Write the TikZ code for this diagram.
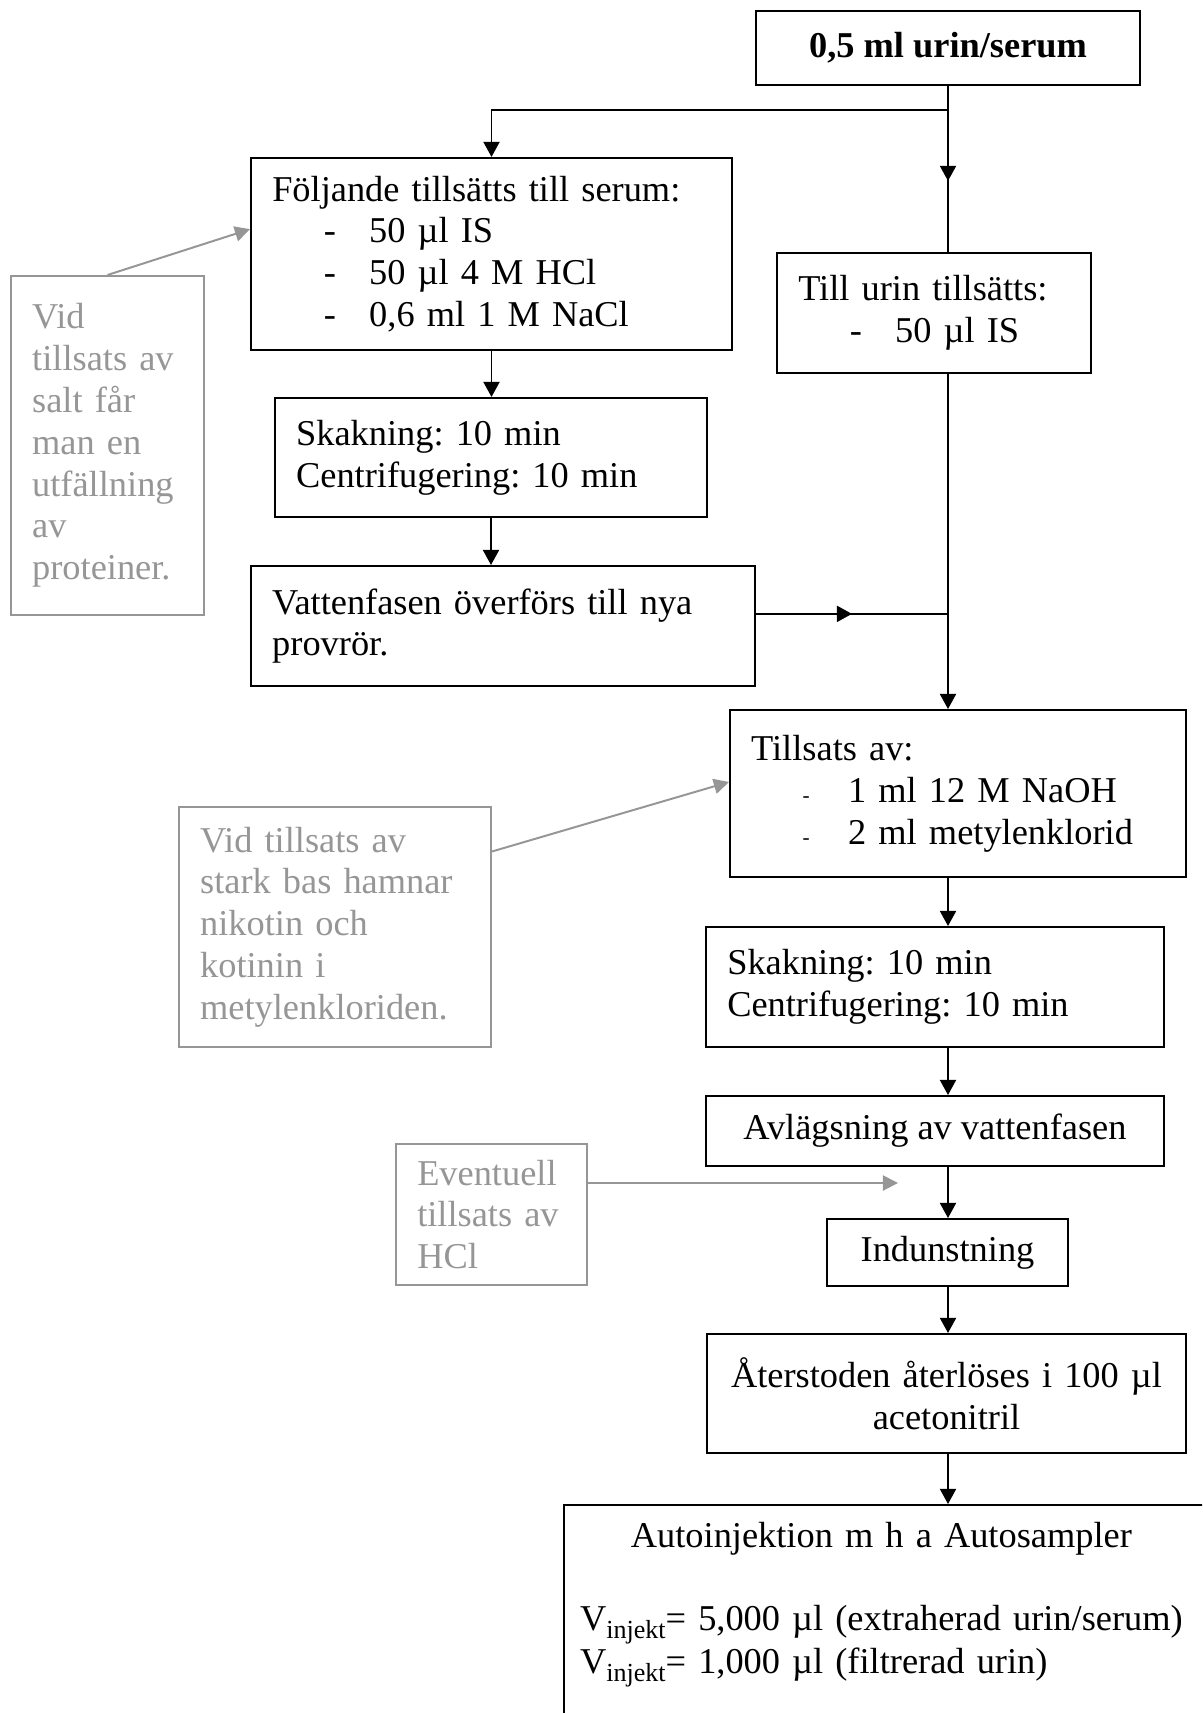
\documentclass[tikz,border=0pt]{standalone}
\usepackage{fontspec}
\setmainfont{Liberation Serif}
\usepackage{xcolor}
\usepackage{tikz}
\usetikzlibrary{arrows.meta,calc,decorations.markings}

\definecolor{notegray}{RGB}{150,150,150}
\newcommand{\dashitem}[2][-]{\makebox[32pt][l]{\hspace*{17pt}#1}#2}
\newcommand{\vinj}{V\raisebox{-2.6pt}{\fontsize{8.6pt}{9pt}\selectfont injekt}}
\frenchspacing

\begin{document}
\begin{tikzpicture}[
    x=0.33pt, y=-0.33pt,
    every node/.style={font=\fontsize{12pt}{13.8pt}\selectfont},
    box/.style={draw,line width=0.65pt,align=left,inner xsep=7pt,inner ysep=2pt},
    cbox/.style={box,align=center},
    note/.style={draw=notegray,line width=0.65pt,text=notegray,align=left,inner xsep=7pt,inner ysep=2pt},
    arr/.style={-{Triangle[length=5pt,width=5.3pt]},line width=0.65pt},
    midarr/.style={line width=0.65pt,decoration={markings,mark=at position 0.5 with {\arrow{Triangle[length=5pt,width=5.3pt]}}},postaction={decorate}},
    grayarr/.style={-{Triangle[length=5pt,width=5pt]},draw=notegray,line width=0.65pt},
]
\clip (0,0) rectangle (1202,1713);

% serum branch (left) and urine branch (right)
\node[box,font=\fontsize{12pt}{13.8pt}\selectfont\bfseries,minimum width=126.7pt,minimum height=24.4pt] (top) at (948,48) {0,5 ml urin/serum};
\node[box,text width=144.7pt,minimum height=63.4pt] (serum) at (491.5,254) {Följande tillsätts till serum:\\\dashitem{50 µl IS}\\\dashitem{50 µl 4 M HCl}\\\dashitem{0,6 ml 1 M NaCl}};
\node[box,text width=89.6pt,minimum height=39.6pt] (urin) at (934,313) {Till urin tillsätts:\\\dashitem{50 µl IS}};
\node[note,text width=49.7pt,minimum height=111.9pt] (salt) at (107.5,445.5) {Vid\\tillsats av\\salt får\\man en\\utfällning\\av\\proteiner.};
\node[box,text width=128.6pt,minimum height=39.3pt] (shake1) at (491,457.5) {Skakning: 10 min\\Centrifugering: 10 min};
\node[box,text width=152.3pt,minimum height=39.6pt] (water) at (503,626) {Vattenfasen överförs till nya\\provrör.};

% common extraction steps
\node[box,text width=136.5pt,minimum height=55.1pt] (base) at (958,793.5) {Tillsats av:\\\dashitem[\scriptsize -]{1 ml 12 M NaOH}\\\dashitem[\scriptsize -]{2 ml metylenklorid}};
\node[note,text width=89pt,minimum height=79.2pt] (bas) at (335,927) {Vid tillsats av\\stark bas hamnar\\nikotin och\\kotinin i\\metylenkloriden.};
\node[box,text width=137.1pt,minimum height=39.6pt] (shake2) at (935,987) {Skakning: 10 min\\Centrifugering: 10 min};
\node[cbox,minimum width=151.1pt,minimum height=23.1pt] (remove) at (935,1131) {Avlägsning av vattenfasen};
\node[note,text width=49pt,minimum height=46.5pt] (hcl) at (491.5,1214.5) {Eventuell\\tillsats av\\HCl};
\node[cbox,minimum width=79.5pt,minimum height=22.1pt] (evap) at (947.5,1252.5) {Indunstning};
\node[cbox,text width=144.1pt,minimum height=39.3pt] (redis) at (946.5,1393.5) {Återstoden återlöses i 100 µl\\acetonitril};
\node[box,anchor=north west,text width=210pt,inner xsep=5.3pt,inner ysep=4.3pt] (inject) at (563,1504) {\begin{tabular}{@{}l@{}}\multicolumn{1}{@{}c@{}}{Autoinjektion m h a Autosampler}\\ \\\vinj= 5,000 µl (extraherad urin/serum)\\\vinj= 1,000 µl (filtrerad urin)\\ \\ \\\end{tabular}};

% connectors
\coordinate (split) at ([yshift=-7.9pt]top.south);
\draw[line width=0.65pt] (top.south) -- (split);
\draw[arr] (split) -| (serum.north);
\draw[midarr] (split) -- (split |- urin.north);
\draw[arr] (serum.south) -- (serum.south |- shake1.north);
\draw[arr] (shake1.south) -- (shake1.south |- water.north);
\coordinate (wout) at ([yshift=4pt]water.east);
\draw[midarr] (wout) -- (wout -| split);
\draw[arr] (split |- urin.south) -- (split |- base.north);
\foreach \a/\b in {base/shake2,shake2/remove,remove/evap,evap/redis,redis/inject}
  \draw[arr] (split |- \a.south) -- (split |- \b.north);

% gray comments
\draw[grayarr] (salt.north) -- ([yshift=8.2pt]serum.west);
\draw[grayarr] ([yshift=-15pt]bas.north east) -- ([yshift=3.8pt]base.west);
\coordinate (hclend) at (898,1183);
\draw[grayarr] (hcl.east |- hclend) -- (hclend);
\end{tikzpicture}
\end{document}
